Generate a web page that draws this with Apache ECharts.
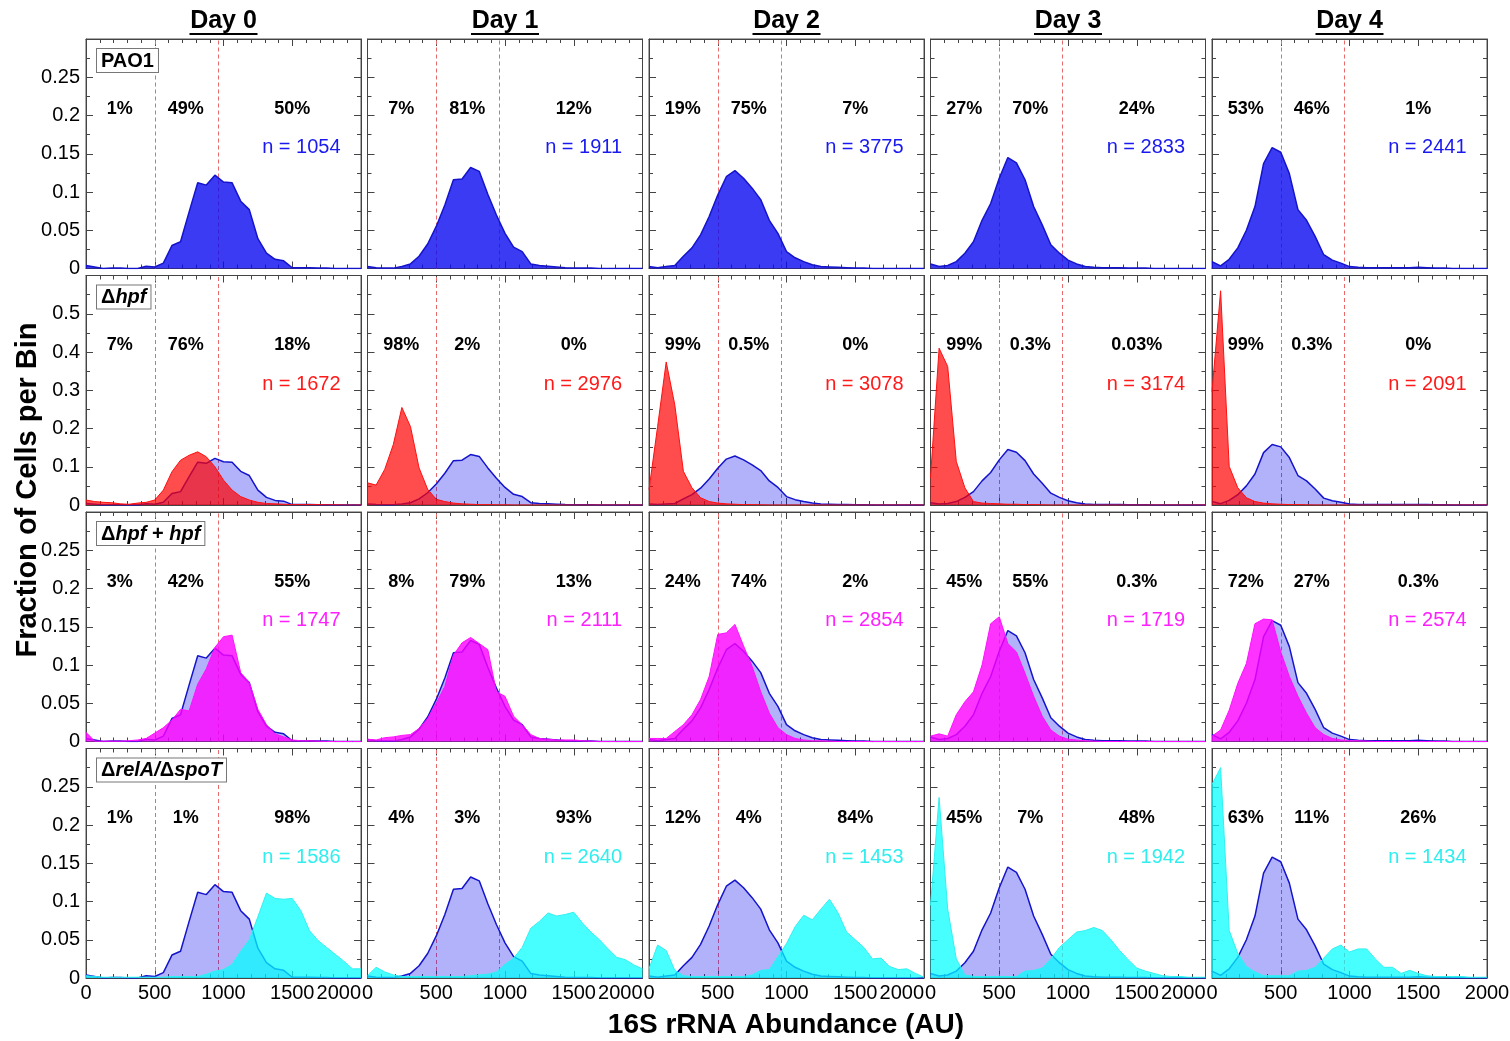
<!DOCTYPE html>
<html>
<head>
<meta charset="utf-8">
<script src="https://cdn.jsdelivr.net/npm/echarts@6/dist/echarts.min.js"></script>
<style>
  html, body { margin: 0; padding: 0; background: #fff; }
  #main { width: 1510px; height: 1041px; }
</style>
</head>
<body>
<div id="main"></div>
<script>
// bin positions (AU)
const binX = [0, 62.5, 125, 187.5, 250, 312.5, 375, 437.5, 500, 562.5, 625, 687.5, 750, 812.5, 875, 937.5,
  1000, 1062.5, 1125, 1187.5, 1250, 1312.5, 1375, 1437.5, 1500, 1562.5, 1625, 1687.5, 1750, 1812.5, 1875, 1937.5, 2000];
const days = ['Day 0', 'Day 1', 'Day 2', 'Day 3', 'Day 4'];
const gates = [500, 960];
const pctX = [245, 725, 1500];

// PAO1
const pao1_d0 = [0.004,0.002,0,0.0005,0.0005,0,0,0.003,0.002,0.007,0.030,0.035,0.074,0.112,0.109,0.122,0.113,0.112,0.088,0.077,0.039,0.020,0.012,0.010,0.001,0.001,0.001,0.0005,0.0005,0,0,0,0];
const pao1_d1 = [0.0025,0.001,0.0005,0.0005,0.0025,0.006,0.016,0.032,0.055,0.083,0.116,0.117,0.132,0.127,0.097,0.070,0.046,0.028,0.022,0.006,0.004,0.003,0.002,0.001,0.0005,0.0005,0.0005,0,0,0,0,0,0];
const pao1_d2 = [0.0025,0.001,0.0025,0.004,0.016,0.027,0.044,0.068,0.096,0.120,0.128,0.118,0.105,0.090,0.063,0.046,0.022,0.014,0.009,0.005,0.0025,0.002,0.0015,0.001,0.0005,0.0005,0,0,0,0,0,0,0];
const pao1_d3 = [0.006,0.0025,0.004,0.009,0.020,0.035,0.063,0.085,0.118,0.145,0.138,0.116,0.081,0.057,0.031,0.020,0.011,0.006,0.0025,0.0015,0.001,0.001,0.001,0.0005,0.0005,0.0005,0,0,0,0,0,0,0];
const pao1_d4 = [0.009,0.0035,0.012,0.027,0.050,0.081,0.137,0.158,0.152,0.124,0.077,0.063,0.042,0.018,0.011,0.007,0.0025,0.0015,0.001,0.001,0.001,0.001,0.001,0.001,0.0015,0.001,0.0005,0.0005,0,0,0,0,0];

// delta hpf
const hpf_d0 = [0.013,0.009,0.007,0.006,0.003,0.002,0.005,0.007,0.013,0.039,0.087,0.117,0.130,0.139,0.126,0.100,0.065,0.039,0.022,0.013,0.007,0.004,0.003,0.002,0.001,0.001,0.001,0.001,0.0005,0.0005,0,0,0];
const hpf_d1 = [0.058,0.052,0.093,0.158,0.255,0.205,0.097,0.041,0.015,0.009,0.005,0.003,0.002,0.001,0.001,0.0005,0.0005,0,0,0,0,0,0,0,0,0,0,0,0,0,0,0,0];
const hpf_d2 = [0.040,0.205,0.374,0.262,0.088,0.045,0.019,0.009,0.005,0.003,0.002,0.001,0.001,0.0005,0,0,0,0,0,0,0,0,0,0,0,0,0,0,0,0,0,0,0];
const hpf_d3 = [0.071,0.410,0.362,0.114,0.045,0.009,0.005,0.004,0.003,0.002,0.002,0.001,0.001,0.0005,0,0,0,0,0,0,0,0,0,0,0,0,0,0,0,0,0,0,0];
const hpf_d4 = [0.296,0.560,0.101,0.045,0.019,0.009,0.005,0.003,0.002,0.001,0.001,0.0005,0,0,0,0,0,0,0,0,0,0,0,0,0,0,0,0,0,0,0,0,0];

// delta hpf + hpf
const comp_d0 = [0.012,0.0005,0.0005,0.0005,0.0005,0.001,0.002,0.004,0.011,0.018,0.028,0.042,0.040,0.075,0.095,0.123,0.137,0.139,0.090,0.077,0.042,0.022,0.010,0.006,0.002,0.001,0.001,0.0005,0,0,0,0,0];
const comp_d1 = [0.003,0.002,0.005,0.006,0.008,0.009,0.017,0.030,0.050,0.072,0.113,0.129,0.136,0.128,0.120,0.065,0.059,0.033,0.022,0.009,0.004,0.003,0.002,0.002,0.002,0.001,0.0005,0,0,0,0,0,0];
const comp_d2 = [0.004,0.004,0.004,0.013,0.022,0.035,0.055,0.085,0.140,0.142,0.153,0.125,0.098,0.065,0.037,0.018,0.009,0.004,0.002,0.001,0.001,0.0005,0,0,0,0,0,0,0,0,0,0,0];
const comp_d3 = [0.007,0.010,0.007,0.035,0.052,0.065,0.100,0.154,0.163,0.128,0.117,0.089,0.059,0.033,0.015,0.007,0.003,0.002,0.001,0.0005,0,0,0,0,0,0,0,0,0,0,0,0,0];
const comp_d4 = [0.007,0.015,0.041,0.076,0.102,0.154,0.160,0.159,0.117,0.085,0.059,0.037,0.018,0.009,0.004,0.002,0.001,0.001,0.0005,0,0,0,0,0,0,0,0,0,0,0,0,0,0];

// delta relA / delta spoT
const rel_d0 = [0.003,0.002,0.001,0.001,0.001,0.001,0.001,0.001,0.001,0.001,0.002,0.002,0.002,0.002,0.005,0.009,0.011,0.018,0.035,0.050,0.080,0.111,0.104,0.103,0.104,0.088,0.062,0.049,0.040,0.031,0.022,0.012,0.012];
const rel_d1 = [0.003,0.014,0.008,0.004,0.002,0.002,0.002,0.002,0.002,0.002,0.002,0.002,0.003,0.004,0.005,0.008,0.018,0.026,0.040,0.065,0.074,0.085,0.081,0.083,0.086,0.072,0.060,0.050,0.038,0.027,0.024,0.017,0.012];
const rel_d2 = [0.012,0.043,0.036,0.010,0.003,0.002,0.002,0.002,0.002,0.002,0.002,0.002,0.004,0.010,0.011,0.028,0.045,0.067,0.082,0.076,0.090,0.103,0.085,0.060,0.050,0.040,0.025,0.026,0.015,0.011,0.012,0.006,0.001];
const rel_d3 = [0.095,0.236,0.090,0.025,0.004,0.002,0.002,0.002,0.002,0.002,0.002,0.009,0.010,0.013,0.025,0.040,0.050,0.060,0.062,0.066,0.062,0.050,0.036,0.024,0.013,0.009,0.006,0.003,0.002,0.002,0.001,0.001,0.001];
const rel_d4 = [0.253,0.275,0.062,0.032,0.015,0.008,0.003,0.003,0.003,0.003,0.009,0.010,0.014,0.026,0.038,0.043,0.034,0.038,0.038,0.025,0.014,0.014,0.006,0.010,0.006,0.003,0.002,0.002,0.002,0.002,0.001,0.001,0.001];

const nPao1 = [1054, 1911, 3775, 2833, 2441];
const nHpf  = [1672, 2976, 3078, 3174, 2091];
const nComp = [1747, 2111, 2854, 1719, 2574];
const nRel  = [1586, 2640, 1453, 1942, 1434];

const pctPao1 = [['1%','49%','50%'], ['7%','81%','12%'], ['19%','75%','7%'], ['27%','70%','24%'], ['53%','46%','1%']];
const pctHpf  = [['7%','76%','18%'], ['98%','2%','0%'], ['99%','0.5%','0%'], ['99%','0.3%','0.03%'], ['99%','0.3%','0%']];
const pctComp = [['3%','42%','55%'], ['8%','79%','13%'], ['24%','74%','2%'], ['45%','55%','0.3%'], ['72%','27%','0.3%']];
const pctRel  = [['1%','1%','98%'], ['4%','3%','93%'], ['12%','4%','84%'], ['45%','7%','48%'], ['63%','11%','26%']];

const pao1 = [pao1_d0, pao1_d1, pao1_d2, pao1_d3, pao1_d4];

const FONT = "'Liberation Sans', Arial, Helvetica, sans-serif";
const colLeft = [86, 367.5, 649, 930.5, 1212];
const rowTop = [39, 275.5, 512, 748.5];
const W = 275, H = 229.5;
const AX = '#444';

const rows = [
  { label: '{b|PAO1}', curves: pao1, n: nPao1, pct: pctPao1, ymax: 0.3, step: 0.05,
    fill: 'rgba(10,10,240,0.8)', line: '#1414cc', nColor: '#1a1af0' },
  { label: '{b|Δ}{i|hpf}', curves: [hpf_d0, hpf_d1, hpf_d2, hpf_d3, hpf_d4], n: nHpf, pct: pctHpf, ymax: 0.6, step: 0.1,
    fill: 'rgba(255,0,0,0.7)', line: '#ff1010', nColor: '#ff1a1a' },
  { label: '{b|Δ}{i|hpf}{b| + }{i|hpf}', curves: [comp_d0, comp_d1, comp_d2, comp_d3, comp_d4], n: nComp, pct: pctComp, ymax: 0.3, step: 0.05,
    fill: 'rgba(255,0,255,0.8)', line: '#ff10ff', nColor: '#ff20ff' },
  { label: '{b|Δ}{i|relA/}{b|Δ}{i|spoT}', curves: [rel_d0, rel_d1, rel_d2, rel_d3, rel_d4], n: nRel, pct: pctRel, ymax: 0.3, step: 0.05,
    fill: 'rgba(0,255,255,0.72)', line: '#30f0f0', nColor: '#30eeee' }
];

const grid = [], xAxis = [], yAxis = [], series = [], graphic = [];

function tickStyle(len) {
  return { show: true, inside: true, length: len, lineStyle: { color: AX, width: 1 } };
}

function areaSeries(g, vals, fill, line, lw, z) {
  return {
    type: 'line', xAxisIndex: 2 * g, yAxisIndex: 2 * g, z: z,
    data: binX.map((x, i) => [x, vals[i]]),
    symbol: 'none', showSymbol: false, silent: true, animation: false,
    lineStyle: { color: line, width: lw },
    areaStyle: { color: fill, opacity: 1 }
  };
}

rows.forEach((row, r) => {
  for (let c = 0; c < 5; c++) {
    const g = r * 5 + c;
    grid.push({ left: colLeft[c], top: rowTop[r], width: W, height: H, show: true,
      backgroundColor: '#fff', borderColor: '#555', borderWidth: 1, outerBoundsMode: 'none' });

    const xLabel = { show: r === 3, color: '#000', fontSize: 20, fontFamily: FONT, margin: 5,
      hideOverlap: false, formatter: v => String(v),
      alignMaxLabel: c < 4 ? 'right' : 'center', showMinLabel: true, showMaxLabel: true };
    xAxis.push({ type: 'value', gridIndex: g, position: 'bottom', min: 0, max: 2000, interval: 500,
      axisLine: { show: true, onZero: false, lineStyle: { color: AX } },
      axisTick: tickStyle(7), minorTick: { show: true, splitNumber: 5, length: 4, lineStyle: { color: AX } },
      splitLine: { show: false }, axisLabel: xLabel });
    xAxis.push({ type: 'value', gridIndex: g, position: 'top', min: 0, max: 2000, interval: 500,
      axisLine: { show: true, onZero: false, lineStyle: { color: AX } },
      axisTick: tickStyle(7), minorTick: { show: true, splitNumber: 5, length: 4, lineStyle: { color: AX } },
      splitLine: { show: false }, axisLabel: { show: false } });

    yAxis.push({ type: 'value', gridIndex: g, position: 'left', min: 0, max: row.ymax, interval: row.step,
      axisLine: { show: true, onZero: false, lineStyle: { color: AX } },
      axisTick: tickStyle(7), minorTick: { show: true, splitNumber: 2, length: 4, lineStyle: { color: AX } },
      splitLine: { show: false },
      axisLabel: { show: c === 0, showMaxLabel: false, hideOverlap: false, color: '#000', fontSize: 20, fontFamily: FONT, margin: 6 } });
    yAxis.push({ type: 'value', gridIndex: g, position: 'right', min: 0, max: row.ymax, interval: row.step,
      axisLine: { show: true, onZero: false, lineStyle: { color: AX } },
      axisTick: tickStyle(7), minorTick: { show: true, splitNumber: 2, length: 4, lineStyle: { color: AX } },
      splitLine: { show: false }, axisLabel: { show: false } });

    // gate lines behind the fills, text on top
    const pctItems = row.pct[c].map((t, k) => ({
      name: t, coord: [pctX[k], row.ymax * 0.695],
      label: { show: true, position: 'inside', formatter: '{b}', color: '#000',
        fontSize: 18, fontWeight: 'bold', fontFamily: FONT }
    }));
    pctItems.push({
      name: 'n = ' + row.n[c], coord: [1855, row.ymax * 0.527],
      label: { show: true, position: 'left', distance: 0, formatter: '{b}', color: row.nColor,
        fontSize: 20, fontFamily: FONT }
    });
    series.push({
      type: 'line', xAxisIndex: 2 * g, yAxisIndex: 2 * g, data: [], silent: true, animation: false,
      markLine: { z: 1, silent: true, symbol: ['none', 'none'], animation: false, label: { show: false },
        lineStyle: { color: '#e86a6a', type: [4, 3], width: 1 },
        data: gates.map(v => ({ xAxis: v })) },
      markPoint: { z: 6, silent: true, animation: false, symbol: 'rect', symbolSize: 1,
        itemStyle: { color: 'rgba(0,0,0,0)' }, data: pctItems }
    });

    if (r === 0) {
      series.push(areaSeries(g, pao1[c], row.fill, row.line, 1.5, 3));
    } else {
      series.push(areaSeries(g, pao1[c], 'rgba(0,0,240,0.3)', '#1414cc', 1.5, 2));
      series.push(areaSeries(g, row.curves[c], row.fill, row.line, 1, 3));
    }
  }

  graphic.push({
    type: 'text', x: colLeft[0] + 11, y: rowTop[r] + 10, z: 20,
    style: {
      text: row.label,
      rich: {
        b: { fontWeight: 'bold', fontSize: 20, fontFamily: FONT, fill: '#000' },
        i: { fontWeight: 'bold', fontStyle: 'italic', fontSize: 20, fontFamily: FONT, fill: '#000' }
      },
      backgroundColor: '#fff', borderColor: '#777', borderWidth: 1, padding: [2, 4, 1, 4]
    }
  });
});

days.forEach((d, c) => {
  const cx = colLeft[c] + W / 2;
  graphic.push({ type: 'text', x: cx, y: 21, style: { text: d, fontSize: 25, fontWeight: 'bold',
    fontFamily: FONT, fill: '#000', align: 'center', verticalAlign: 'middle' } });
  graphic.push({ type: 'line', shape: { x1: cx - 34, y1: 34, x2: cx + 34, y2: 34 },
    style: { stroke: '#000', lineWidth: 2 } });
});

graphic.push({ type: 'text', x: 28, y: 490, rotation: Math.PI / 2,
  style: { text: 'Fraction of Cells per Bin', fontSize: 29, fontWeight: 'bold', fontFamily: FONT,
    fill: '#000', align: 'center', verticalAlign: 'middle' } });
graphic.push({ type: 'text', x: 786, y: 1025,
  style: { text: '16S rRNA Abundance (AU)', fontSize: 28, fontWeight: 'bold', fontFamily: FONT,
    fill: '#000', align: 'center', verticalAlign: 'middle' } });

const chart = echarts.init(document.getElementById('main'));
chart.setOption({
  animation: false,
  backgroundColor: '#fff',
  grid: grid,
  xAxis: xAxis,
  yAxis: yAxis,
  series: series,
  graphic: graphic
});
</script>
</body>
</html>
